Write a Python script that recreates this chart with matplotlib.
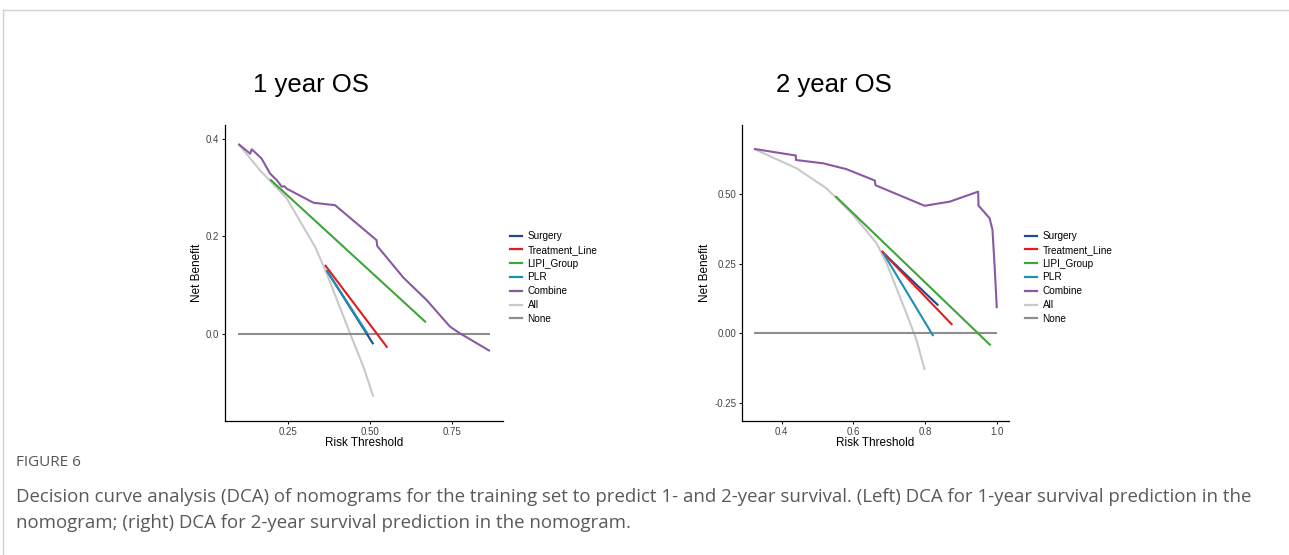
import matplotlib
matplotlib.use("Agg")
import matplotlib.pyplot as plt
from matplotlib.lines import Line2D

plt.rcParams["font.family"] = ["Liberation Sans", "DejaVu Sans"]

# legend order / colours
series_names = ["Surgery", "Treatment_Line", "LIPI_Group", "PLR", "Combine", "All", "None"]
series_colors = ["#1F4B8E", "#E41A1C", "#3FA53A", "#1C8FB5", "#8B58A3", "#C9C9C9", "#8E8E8E"]

# ---- 1 year OS ----
os1_none_x = [0.097, 0.867]
os1_none_y = [0.0, 0.0]
os1_all_x = [0.097, 0.163, 0.245, 0.332, 0.367, 0.403, 0.439, 0.480, 0.510]
os1_all_y = [0.390, 0.336, 0.278, 0.178, 0.124, 0.062, 0.0, -0.069, -0.130]
os1_combine_x = [0.097, 0.133, 0.138, 0.168, 0.194, 0.214, 0.230, 0.238, 0.245,
                 0.327, 0.393, 0.520, 0.522, 0.602, 0.673, 0.745, 0.776, 0.867]
os1_combine_y = [0.390, 0.370, 0.379, 0.360, 0.329, 0.316, 0.302, 0.303, 0.298,
                 0.269, 0.264, 0.192, 0.180, 0.115, 0.069, 0.014, 0.0, -0.036]
os1_lipi_x = [0.194, 0.671]
os1_lipi_y = [0.317, 0.023]
os1_treat_x = [0.362, 0.553]
os1_treat_y = [0.141, -0.029]
os1_surgery_x = [0.367, 0.510]
os1_surgery_y = [0.130, -0.022]
os1_plr_x = [0.367, 0.492]
os1_plr_y = [0.130, 0.0]

# ---- 2 year OS ----
os2_none_x = [0.323, 1.0]
os2_none_y = [0.0, 0.0]
os2_all_x = [0.323, 0.442, 0.525, 0.572, 0.600, 0.665, 0.693, 0.748, 0.776, 0.799]
os2_all_y = [0.664, 0.594, 0.522, 0.462, 0.426, 0.324, 0.252, 0.072, -0.024, -0.132]
os2_combine_x = [0.323, 0.440, 0.440, 0.516, 0.581, 0.660, 0.662, 0.799, 0.869,
                 0.948, 0.949, 0.980, 0.988, 0.994, 1.0]
os2_combine_y = [0.664, 0.640, 0.624, 0.612, 0.591, 0.550, 0.533, 0.459, 0.474,
                 0.510, 0.460, 0.414, 0.372, 0.240, 0.090]
os2_lipi_x = [0.550, 0.983]
os2_lipi_y = [0.494, -0.044]
os2_treat_x = [0.679, 0.720, 0.876]
os2_treat_y = [0.297, 0.240, 0.030]
os2_surgery_x = [0.683, 0.837]
os2_surgery_y = [0.290, 0.100]
os2_plr_x = [0.683, 0.823]
os2_plr_y = [0.290, -0.010]

panels = [
    {
        "title": "1 year OS",
        "series": [
            (os1_all_x, os1_all_y, 5), (os1_none_x, os1_none_y, 6),
            (os1_surgery_x, os1_surgery_y, 0), (os1_treat_x, os1_treat_y, 1),
            (os1_lipi_x, os1_lipi_y, 2), (os1_plr_x, os1_plr_y, 3),
            (os1_combine_x, os1_combine_y, 4),
        ],
        "xlim": (0.056, 0.907), "ylim": (-0.18, 0.429),
        "xticks": [0.25, 0.50, 0.75], "xfmt": "{:.2f}",
        "yticks": [0.0, 0.2, 0.4], "yfmt": "{:.1f}",
        "pos": [225 / 1289, 1 - 421 / 555, 278 / 1289, 296 / 555],
        "title_x": 311 / 1289,
        "legend_x": 510 / 1289,
    },
    {
        "title": "2 year OS",
        "series": [
            (os2_all_x, os2_all_y, 5), (os2_none_x, os2_none_y, 6),
            (os2_surgery_x, os2_surgery_y, 0), (os2_treat_x, os2_treat_y, 1),
            (os2_lipi_x, os2_lipi_y, 2), (os2_plr_x, os2_plr_y, 3),
            (os2_combine_x, os2_combine_y, 4),
        ],
        "xlim": (0.289, 1.034), "ylim": (-0.316, 0.750),
        "xticks": [0.4, 0.6, 0.8, 1.0], "xfmt": "{:.1f}",
        "yticks": [-0.25, 0.0, 0.25, 0.50], "yfmt": "{:.2f}",
        "pos": [741.7 / 1289, 1 - 421 / 555, 267.3 / 1289, 296 / 555],
        "title_x": 834 / 1289,
        "legend_x": 1025 / 1289,
    },
]

fig = plt.figure(figsize=(12.89, 5.55), dpi=100)

# light frame around the figure panel
fig.add_artist(Line2D([3 / 1289, 3 / 1289], [0, 1 - 10 / 555], color="#D0D0D0", lw=1))
fig.add_artist(Line2D([3 / 1289, 1], [1 - 10 / 555, 1 - 10 / 555], color="#D0D0D0", lw=1))

for p in panels:
    ax = fig.add_axes(p["pos"])
    for xs, ys, ci in p["series"]:
        ax.plot(xs, ys, color=series_colors[ci], lw=1.5, solid_capstyle="butt")
    ax.set_xlim(*p["xlim"])
    ax.set_ylim(*p["ylim"])
    ax.set_xticks(p["xticks"])
    ax.set_xticklabels([p["xfmt"].format(v) for v in p["xticks"]])
    ax.set_yticks(p["yticks"])
    ax.set_yticklabels([p["yfmt"].format(v) for v in p["yticks"]])
    for s in ["top", "right"]:
        ax.spines[s].set_visible(False)
    for s in ["left", "bottom"]:
        ax.spines[s].set_linewidth(0.9)
    ax.tick_params(labelsize=7, labelcolor="#444444", length=2.5, width=0.7, pad=1.5)
    ax.set_xlabel("Risk Threshold", fontsize=8.5, labelpad=0.5)
    ax.set_ylabel("Net Benefit", fontsize=8.5, labelpad=2)

    fig.text(p["title_x"], 1 - 85 / 555, p["title"], fontsize=18.5, ha="center", va="center")

    handles = [Line2D([], [], color=c, lw=1.6) for c in series_colors]
    fig.legend(handles, series_names, loc="upper left",
               bbox_to_anchor=(p["legend_x"], 1 - 231 / 555), frameon=False,
               fontsize=7.2, handlelength=1.2, handletextpad=0.55,
               labelspacing=0.38, borderaxespad=0, borderpad=0)

cap_font = ["Open Sans", "DejaVu Sans"]
fig.text(16 / 1289, 1 - 463 / 555, "FIGURE 6", fontsize=11, color="#555555",
         va="center", family=cap_font)
fig.text(16 / 1289, 1 - 497 / 555,
         "Decision curve analysis (DCA) of nomograms for the training set to predict 1- and 2-year survival. (Left) DCA for 1-year survival prediction in the",
         fontsize=13.4, color="#595959", va="center", family=cap_font)
fig.text(16 / 1289, 1 - 523 / 555,
         "nomogram; (right) DCA for 2-year survival prediction in the nomogram.",
         fontsize=13.4, color="#595959", va="center", family=cap_font)

fig.savefig("out.png", dpi=100)
